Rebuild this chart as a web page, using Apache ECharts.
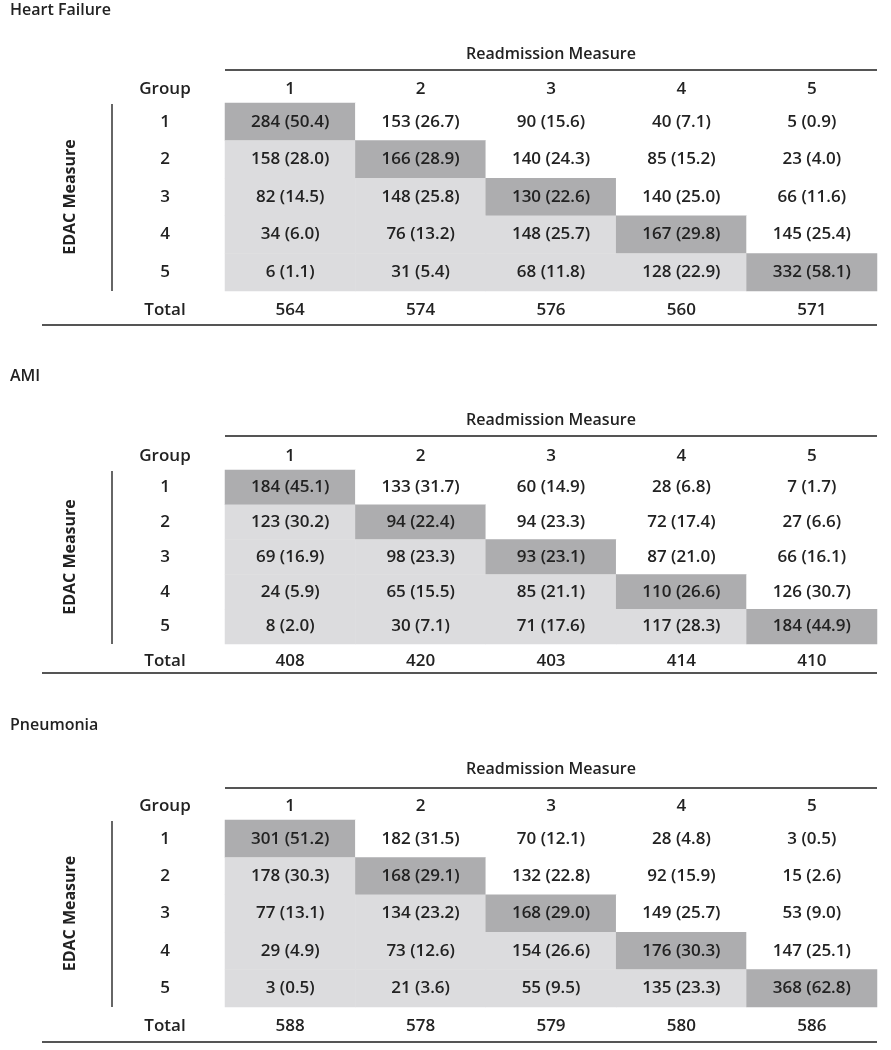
<!DOCTYPE html>
<html>
<head>
<meta charset="utf-8">
<script src="https://cdn.jsdelivr.net/npm/echarts@6/dist/echarts.min.js"></script>
<style>
html,body{margin:0;padding:0;background:#fff;}
#chart{width:891px;height:1050px;}
</style>
</head>
<body>
<div id="chart"></div>
<script>
// ---- Data ----
const panelTitles = ['Heart Failure', 'AMI', 'Pneumonia'];
const readmissionGroups = ['1', '2', '3', '4', '5'];
const edacGroups = ['1', '2', '3', '4', '5', 'Total'];

const hfCounts = [
  [284, 153, 90, 40, 5],
  [158, 166, 140, 85, 23],
  [82, 148, 130, 140, 66],
  [34, 76, 148, 167, 145],
  [6, 31, 68, 128, 332]
];
const hfPct = [
  [50.4, 26.7, 15.6, 7.1, 0.9],
  [28.0, 28.9, 24.3, 15.2, 4.0],
  [14.5, 25.8, 22.6, 25.0, 11.6],
  [6.0, 13.2, 25.7, 29.8, 25.4],
  [1.1, 5.4, 11.8, 22.9, 58.1]
];
const hfTotals = [564, 574, 576, 560, 571];

const amiCounts = [
  [184, 133, 60, 28, 7],
  [123, 94, 94, 72, 27],
  [69, 98, 93, 87, 66],
  [24, 65, 85, 110, 126],
  [8, 30, 71, 117, 184]
];
const amiPct = [
  [45.1, 31.7, 14.9, 6.8, 1.7],
  [30.2, 22.4, 23.3, 17.4, 6.6],
  [16.9, 23.3, 23.1, 21.0, 16.1],
  [5.9, 15.5, 21.1, 26.6, 30.7],
  [2.0, 7.1, 17.6, 28.3, 44.9]
];
const amiTotals = [408, 420, 403, 414, 410];

const pnCounts = [
  [301, 182, 70, 28, 3],
  [178, 168, 132, 92, 15],
  [77, 134, 168, 149, 53],
  [29, 73, 154, 176, 147],
  [3, 21, 55, 135, 368]
];
const pnPct = [
  [51.2, 31.5, 12.1, 4.8, 0.5],
  [30.3, 29.1, 22.8, 15.9, 2.6],
  [13.1, 23.2, 29.0, 25.7, 9.0],
  [4.9, 12.6, 26.6, 30.3, 25.1],
  [0.5, 3.6, 9.5, 23.3, 62.8]
];
const pnTotals = [588, 578, 579, 580, 586];

// ---- Layout / style ----
const FONT = '"Open Sans", "Noto Sans", sans-serif';
const TXT = '#222222';
const DARK = '#adadaf';
const LIGHT = '#dcdcde';
const RULE = '#555555';
const FS = 17;
const FW = 600;

const panels = [
  { title: panelTitles[0], counts: hfCounts, pct: hfPct, totals: hfTotals,
    titleY: 13, headY: 54, ruleY: 70, top: 103, rowH: 37.6, bottomRule: 325 },
  { title: panelTitles[1], counts: amiCounts, pct: amiPct, totals: amiTotals,
    titleY: 379, headY: 420, ruleY: 436, top: 470, rowH: 34.8, bottomRule: 673 },
  { title: panelTitles[2], counts: pnCounts, pct: pnPct, totals: pnTotals,
    titleY: 728, headY: 769, ruleY: 788, top: 820, rowH: 37.4, bottomRule: 1042 }
];
const gridLeft = 225, gridRight = 877;

const grids = [], xAxes = [], yAxes = [], series = [], graphics = [];

panels.forEach((p, i) => {
  grids.push({ left: gridLeft, width: gridRight - gridLeft, top: p.top, height: p.rowH * 6 });
  xAxes.push({
    type: 'category', gridIndex: i, position: 'top', data: readmissionGroups,
    axisLine: { show: false }, axisTick: { show: false }, splitLine: { show: false },
    axisLabel: { fontFamily: FONT, fontSize: FS, fontWeight: FW, color: TXT, margin: 14, verticalAlign: 'middle' }
  });
  yAxes.push({
    type: 'category', gridIndex: i, inverse: true, data: edacGroups,
    axisLine: { show: false }, axisTick: { show: false }, splitLine: { show: false },
    axisLabel: { fontFamily: FONT, fontSize: FS, fontWeight: FW, color: TXT, margin: 60, align: 'center' }
  });
  const data = [];
  for (let r = 0; r < 5; r++) {
    for (let c = 0; c < 5; c++) {
      const lvl = c === r ? 2 : (c < r ? 1 : 0);
      data.push({
        value: [c, r, p.counts[r][c]],
        itemStyle: { color: lvl === 2 ? DARK : (lvl === 1 ? LIGHT : '#ffffff') },
        label: { formatter: p.counts[r][c] + ' (' + p.pct[r][c].toFixed(1) + ')' }
      });
    }
  }
  for (let c = 0; c < 5; c++) {
    data.push({
      value: [c, 5, p.totals[c]],
      itemStyle: { color: 'rgba(0,0,0,0)' },
      label: { formatter: String(p.totals[c]) }
    });
  }
  series.push({
    type: 'heatmap', xAxisIndex: i, yAxisIndex: i, data: data,
    label: { show: true, fontFamily: FONT, fontSize: FS, fontWeight: FW, color: TXT },
    emphasis: { disabled: true },
    itemStyle: { borderWidth: 0 }
  });

  // Texts
  graphics.push({ type: 'text', left: 10, top: p.titleY - 11,
    style: { text: p.title, fontFamily: FONT, fontSize: 16, fontWeight: 600, fill: TXT } });
  graphics.push({ type: 'text', x: (gridLeft + gridRight) / 2, y: p.headY,
    style: { text: 'Readmission Measure', fontFamily: FONT, fontSize: 16, fontWeight: FW, fill: TXT, align: 'center', verticalAlign: 'middle' } });
  graphics.push({ type: 'text', x: 165, y: p.top - 14,
    style: { text: 'Group', fontFamily: FONT, fontSize: FS, fontWeight: FW, fill: TXT, align: 'center', verticalAlign: 'middle' } });
  graphics.push({ type: 'text', x: 70, y: p.top + p.rowH * 2.5, rotation: Math.PI / 2,
    style: { text: 'EDAC Measure', fontFamily: FONT, fontSize: 16, fontWeight: 700, fill: TXT, align: 'center', verticalAlign: 'middle' } });
  // Rules
  graphics.push({ type: 'line', shape: { x1: gridLeft, y1: p.ruleY, x2: gridRight, y2: p.ruleY },
    style: { stroke: RULE, lineWidth: 2 } });
  graphics.push({ type: 'line', shape: { x1: 42, y1: p.bottomRule, x2: gridRight, y2: p.bottomRule },
    style: { stroke: RULE, lineWidth: 2 } });
  graphics.push({ type: 'line', shape: { x1: 112, y1: p.top + 1, x2: 112, y2: p.top + p.rowH * 5 },
    style: { stroke: '#333', lineWidth: 1.5 } });
});

const chart = echarts.init(document.getElementById('chart'), null, { renderer: 'canvas' });
chart.setOption({
  backgroundColor: '#ffffff',
  animation: false,
  grid: grids, xAxis: xAxes, yAxis: yAxes, series: series,
  graphic: { elements: graphics }
});
</script>
</body>
</html>
